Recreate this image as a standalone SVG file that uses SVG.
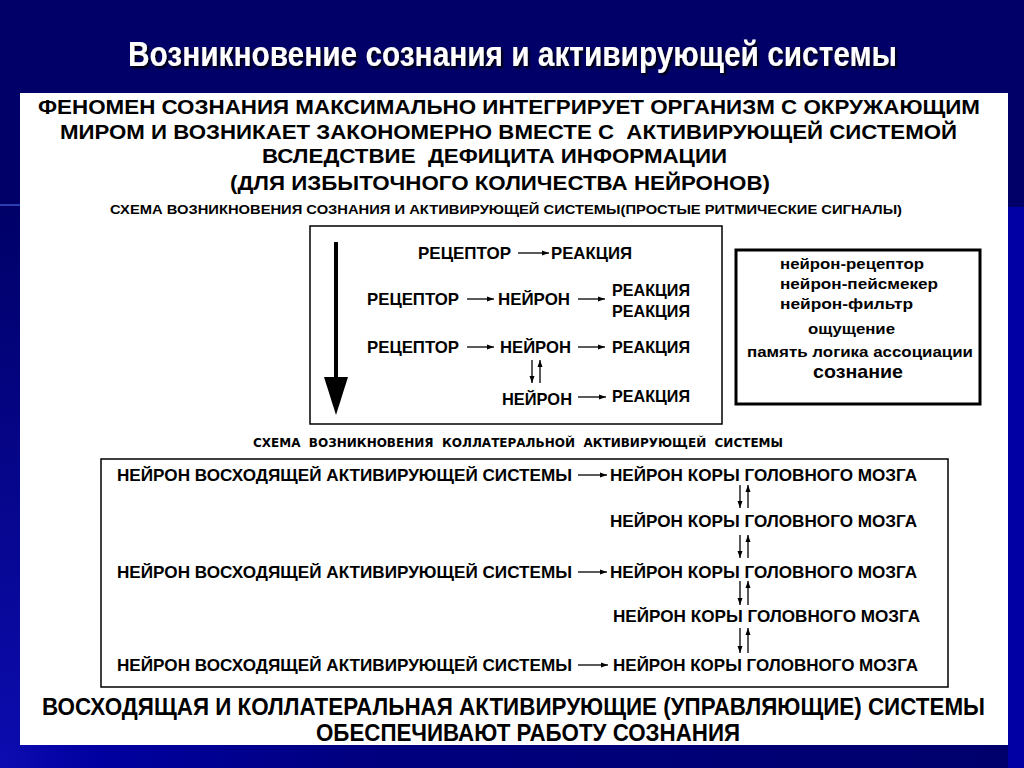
<svg xmlns="http://www.w3.org/2000/svg" width="1024" height="768" viewBox="0 0 1024 768">
<style>
.t{font-family:"Liberation Sans",Arial,sans-serif;font-weight:bold;fill:#000}
.n{font-family:"Liberation Sans Narrow","Liberation Sans",Arial,sans-serif;font-weight:bold;fill:#000}
.d{font-family:"DejaVu Sans",sans-serif;font-weight:bold;fill:#000}
.c{stroke:#000;stroke-width:1.3;fill:none;marker-end:url(#ah)}
.box{fill:none;stroke:#000}
</style>
<defs>
<marker id="ah" markerUnits="userSpaceOnUse" markerWidth="7" markerHeight="6" refX="7" refY="3" orient="auto"><path d="M0,0.5 L7,3 L0,5.5 z" fill="#000"/></marker>
<linearGradient id="lg" x1="0" y1="0" x2="0" y2="1"><stop offset="0" stop-color="#000068"/><stop offset="1" stop-color="#0c0cb0"/></linearGradient>
<linearGradient id="bg" x1="0" y1="0" x2="1" y2="0"><stop offset="0" stop-color="#0c0cb0"/><stop offset="0.1" stop-color="#0000a0"/><stop offset="0.35" stop-color="#000080"/><stop offset="1" stop-color="#00006c"/></linearGradient>
<filter id="sh" x="-5%" y="-20%" width="110%" height="150%"><feDropShadow dx="2" dy="2" stdDeviation="0.8" flood-color="#000" flood-opacity="0.9"/></filter>
</defs>
<g id="background">
<rect x="0" y="0" width="1024" height="768" fill="#000068"/>
<rect x="0" y="205" width="20" height="563" fill="url(#lg)"/>
<rect x="0" y="745" width="1024" height="23" fill="url(#bg)"/>
<rect x="1008" y="207" width="16" height="561" fill="#0000a4"/>
<rect x="0" y="204" width="20" height="2" fill="#3a5ad0" opacity="0.7"/>
<rect x="20" y="93" width="988" height="652" fill="#fff"/>
</g>
<g id="title">
<text transform="translate(128,66) scale(1,1.1)" x="0" y="0" font-size="32" textLength="769" lengthAdjust="spacingAndGlyphs" class="n" style="fill:#fff" filter="url(#sh)">Возникновение сознания и активирующей системы</text>
</g>
<g id="intro">
<text class="t" x="38" y="114" font-size="20" textLength="942" lengthAdjust="spacingAndGlyphs">ФЕНОМЕН СОЗНАНИЯ МАКСИМАЛЬНО ИНТЕГРИРУЕТ ОРГАНИЗМ С ОКРУЖАЮЩИМ</text>
<text class="t" x="60" y="139" font-size="20" textLength="897" lengthAdjust="spacingAndGlyphs" xml:space="preserve">МИРОМ И ВОЗНИКАЕТ ЗАКОНОМЕРНО ВМЕСТЕ С  АКТИВИРУЮЩЕЙ СИСТЕМОЙ</text>
<text class="t" x="262" y="163" font-size="20" textLength="465" lengthAdjust="spacingAndGlyphs" xml:space="preserve">ВСЛЕДСТВИЕ  ДЕФИЦИТА ИНФОРМАЦИИ</text>
<text class="t" x="230" y="190" font-size="20" textLength="540" lengthAdjust="spacingAndGlyphs">(ДЛЯ ИЗБЫТОЧНОГО КОЛИЧЕСТВА НЕЙРОНОВ)</text>
<text class="t" x="110" y="214" font-size="12.5" textLength="792" lengthAdjust="spacingAndGlyphs">СХЕМА ВОЗНИКНОВЕНИЯ СОЗНАНИЯ И АКТИВИРУЮЩЕЙ СИСТЕМЫ(ПРОСТЫЕ РИТМИЧЕСКИЕ СИГНАЛЫ)</text>
</g>
<g id="simple-scheme">
<rect class="box" x="310" y="226" width="412" height="198" stroke-width="1.5"/>
<line x1="336" y1="242" x2="336" y2="380" stroke="#000" stroke-width="4"/>
<polygon points="324,377 348,377 336,415" fill="#000"/>
<text class="t" x="418" y="259" font-size="17" textLength="93" lengthAdjust="spacingAndGlyphs">РЕЦЕПТОР</text>
<text class="t" x="551" y="259" font-size="17" textLength="81" lengthAdjust="spacingAndGlyphs">РЕАКЦИЯ</text>
<text class="t" x="367" y="305" font-size="17" textLength="92" lengthAdjust="spacingAndGlyphs">РЕЦЕПТОР</text>
<text class="t" x="498" y="305" font-size="17" textLength="72" lengthAdjust="spacingAndGlyphs">НЕЙРОН</text>
<text class="t" x="612" y="296" font-size="17" textLength="78" lengthAdjust="spacingAndGlyphs">РЕАКЦИЯ</text>
<text class="t" x="612" y="317" font-size="17" textLength="78" lengthAdjust="spacingAndGlyphs">РЕАКЦИЯ</text>
<text class="t" x="367" y="353" font-size="17" textLength="92" lengthAdjust="spacingAndGlyphs">РЕЦЕПТОР</text>
<text class="t" x="500" y="353" font-size="17" textLength="71" lengthAdjust="spacingAndGlyphs">НЕЙРОН</text>
<text class="t" x="612" y="353" font-size="17" textLength="78" lengthAdjust="spacingAndGlyphs">РЕАКЦИЯ</text>
<text class="t" x="502" y="405" font-size="17" textLength="70" lengthAdjust="spacingAndGlyphs">НЕЙРОН</text>
<text class="t" x="612" y="402" font-size="17" textLength="78" lengthAdjust="spacingAndGlyphs">РЕАКЦИЯ</text>
</g>
<g id="levels">
<rect class="box" x="736" y="250" width="244" height="154" stroke-width="3"/>
<text class="t" x="780" y="269" font-size="15.5" textLength="144" lengthAdjust="spacingAndGlyphs">нейрон-рецептор</text>
<text class="t" x="780" y="289" font-size="15.5" textLength="158" lengthAdjust="spacingAndGlyphs">нейрон-пейсмекер</text>
<text class="t" x="780" y="309" font-size="15.5" textLength="133" lengthAdjust="spacingAndGlyphs">нейрон-фильтр</text>
<text class="t" x="808" y="334" font-size="15.5" textLength="87" lengthAdjust="spacingAndGlyphs">ощущение</text>
<text class="t" x="747" y="357" font-size="15.5" textLength="226" lengthAdjust="spacingAndGlyphs">память логика ассоциации</text>
<text class="t" x="813" y="378" font-size="18.5" textLength="90" lengthAdjust="spacingAndGlyphs">сознание</text>
</g>
<g id="collateral-label">
<text class="d" x="253" y="447" font-size="11.5" textLength="530" lengthAdjust="spacingAndGlyphs" xml:space="preserve">СХЕМА  ВОЗНИКНОВЕНИЯ  КОЛЛАТЕРАЛЬНОЙ  АКТИВИРУЮЩЕЙ  СИСТЕМЫ</text>
</g>
<g id="collateral-scheme">
<rect class="box" x="101" y="459" width="847" height="228" stroke-width="1.5"/>
<text class="t" x="117" y="481" font-size="16.5" textLength="455" lengthAdjust="spacingAndGlyphs">НЕЙРОН ВОСХОДЯЩЕЙ АКТИВИРУЮЩЕЙ СИСТЕМЫ</text>
<text class="t" x="610" y="481" font-size="16.5" textLength="307" lengthAdjust="spacingAndGlyphs">НЕЙРОН КОРЫ ГОЛОВНОГО МОЗГА</text>
<text class="t" x="610" y="527" font-size="16.5" textLength="307" lengthAdjust="spacingAndGlyphs">НЕЙРОН КОРЫ ГОЛОВНОГО МОЗГА</text>
<text class="t" x="117" y="578" font-size="16.5" textLength="455" lengthAdjust="spacingAndGlyphs">НЕЙРОН ВОСХОДЯЩЕЙ АКТИВИРУЮЩЕЙ СИСТЕМЫ</text>
<text class="t" x="610" y="578" font-size="16.5" textLength="307" lengthAdjust="spacingAndGlyphs">НЕЙРОН КОРЫ ГОЛОВНОГО МОЗГА</text>
<text class="t" x="613" y="622" font-size="16.5" textLength="307" lengthAdjust="spacingAndGlyphs">НЕЙРОН КОРЫ ГОЛОВНОГО МОЗГА</text>
<text class="t" x="117" y="671" font-size="16.5" textLength="455" lengthAdjust="spacingAndGlyphs">НЕЙРОН ВОСХОДЯЩЕЙ АКТИВИРУЮЩЕЙ СИСТЕМЫ</text>
<text class="t" x="613" y="671" font-size="16.5" textLength="305" lengthAdjust="spacingAndGlyphs">НЕЙРОН КОРЫ ГОЛОВНОГО МОЗГА</text>
</g>
<g id="conclusion">
<text class="n" transform="translate(42,715) scale(1,1.1)" x="0" y="0" font-size="22" textLength="943" lengthAdjust="spacingAndGlyphs">ВОСХОДЯЩАЯ И КОЛЛАТЕРАЛЬНАЯ АКТИВИРУЮЩИЕ (УПРАВЛЯЮЩИЕ) СИСТЕМЫ</text>
<text class="n" transform="translate(316,741) scale(1,1.1)" x="0" y="0" font-size="22" textLength="424" lengthAdjust="spacingAndGlyphs">ОБЕСПЕЧИВАЮТ РАБОТУ СОЗНАНИЯ</text>
</g>
<g id="connectors">
<line class="c" x1="518" y1="253" x2="549" y2="253"/>
<line class="c" x1="467" y1="299" x2="494" y2="299"/>
<line class="c" x1="578" y1="299" x2="605" y2="299"/>
<line class="c" x1="467" y1="347" x2="494" y2="347"/>
<line class="c" x1="578" y1="347" x2="605" y2="347"/>
<line class="c" x1="532" y1="360" x2="532" y2="383"/>
<line class="c" x1="540" y1="383" x2="540" y2="360"/>
<line class="c" x1="578" y1="397" x2="606" y2="397"/>
<line class="c" x1="578" y1="475" x2="607" y2="475"/>
<line class="c" x1="740" y1="485" x2="740" y2="508"/>
<line class="c" x1="748" y1="508" x2="748" y2="485"/>
<line class="c" x1="740" y1="535" x2="740" y2="558"/>
<line class="c" x1="748" y1="558" x2="748" y2="535"/>
<line class="c" x1="578" y1="572" x2="607" y2="572"/>
<line class="c" x1="740" y1="581" x2="740" y2="605"/>
<line class="c" x1="748" y1="605" x2="748" y2="581"/>
<line class="c" x1="740" y1="628" x2="740" y2="653"/>
<line class="c" x1="748" y1="653" x2="748" y2="628"/>
<line class="c" x1="578" y1="665" x2="608" y2="665"/>
</g>
</svg>
